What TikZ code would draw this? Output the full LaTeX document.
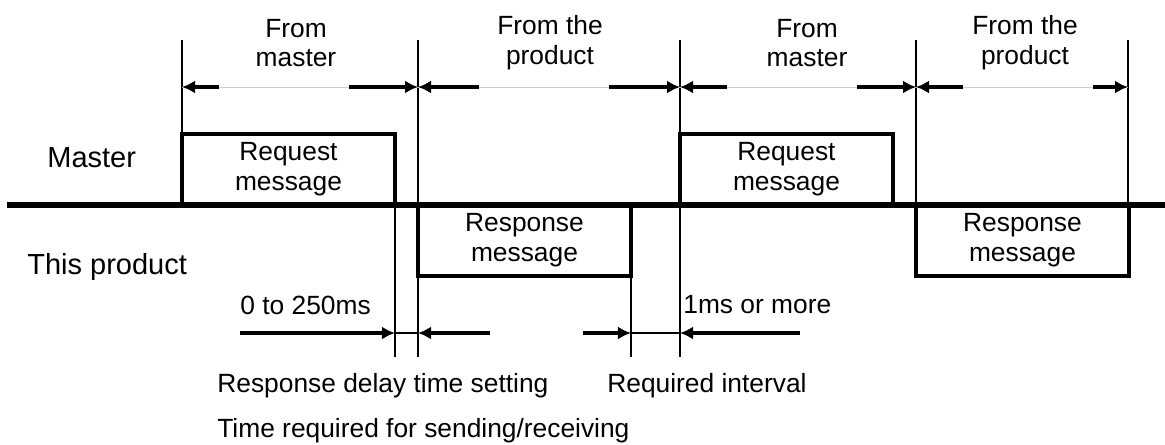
\documentclass[tikz,border=0pt]{standalone}
\usepackage{fontspec}
\setmainfont{Liberation Sans}
\usepackage{tikz}
\usetikzlibrary{arrows.meta,positioning}
\newcommand{\lblsize}{\fontsize{15pt}{17pt}\selectfont}
\newcommand{\sidesize}{\fontsize{16.5pt}{19pt}\selectfont}

\begin{document}
\begin{tikzpicture}[
    x=0.02cm, y=-0.02cm,
    font=\lblsize,
    msgbox/.style={rectangle, draw, line width=2pt, minimum width=4.26cm, minimum height=1.42cm, inner sep=0pt, outer sep=0pt, align=center},
    bus/.style={line width=3.7pt},
    guide/.style={line width=0.75pt},
    dimline/.style={line width=0.5pt, black!20},
    arrow/.style={-{Latex[length=2.6mm,width=2.6mm]}, line width=2pt},
    lbl/.style={inner sep=0pt, align=center},
    note/.style={inner sep=0pt, anchor=base west},
    side/.style={inner sep=0pt, anchor=base west, font=\sidesize}
]
\useasboundingbox (0,0) rectangle (1165,444);

% Line and signal boxes
\draw[bus] (7,205) -- (1165,205);
\node[msgbox, anchor=south west] (req1) at (182,205) {Request\\message};
\node[msgbox, anchor=north west] (resp1) at (418,205) {Response\\message};
\node[msgbox, anchor=south west] (req2) at (680,205) {Request\\message};
\node[msgbox, anchor=north west] (resp2) at (916,205) {Response\\message};

% Side labels
\node[side] (master) at (47,167) {Master};
\node[side] (product) at (27,274) {This product};

% Guide lines
\draw[guide] (req1.north west) -- (182,40);
\draw[guide] (418,40) -- (418,357);
\draw[guide] (680,40) -- (680,357);
\draw[guide] (916,40) -- (resp2.north west);
\draw[guide] (1128,40) -- (1128,205);
\draw[guide] (req1.south east) -- (req1.south east |- {(0,357)});
\draw[guide] (resp1.south east) -- (resp1.south east |- {(0,357)});

% Top spans
\node[lbl] (from1) at (296,43) {From\\master};
\node[lbl] (from2) at (550,43) {From the\\product};
\node[lbl] (from3) at (807,43) {From\\master};
\node[lbl] (from4) at (1025,43) {From the\\product};
\foreach \a/\b in {182/418, 418/680, 680/916, 916/1128}
  \draw[dimline] (\a,87) -- (\b,87);
\draw[arrow] (219,87) -- (182,87);
\draw[arrow] (349,87) -- (418,87);
\draw[arrow] (479,87) -- (418,87);
\draw[arrow] (609,87) -- (680,87);
\draw[arrow] (727,87) -- (680,87);
\draw[arrow] (857,87) -- (916,87);
\draw[arrow] (963,87) -- (916,87);
\draw[arrow] (1093,87) -- (1128,87);

% Bottom timings
\draw[guide] (req1.south east |- {(0,333)}) -- (418,333);
\draw[guide] (resp1.south east |- {(0,333)}) -- (680,333);
\draw[arrow] (240,333) -- (req1.south east |- {(0,333)});
\draw[arrow] (490,333) -- (418,333);
\draw[arrow] (583,333) -- (resp1.south east |- {(0,333)});
\draw[arrow] (800,333) -- (680,333);
\node[note] (delay) at (240,314) {0 to 250ms};
\node[note] (gap) at (683,313) {1ms or more};
\node[note] (delaytxt) at (217,392) {Response delay time setting};
\node[note] (gaptxt) at (607,392) {Required interval};
\node[note] (sendtxt) at (217,437) {Time required for sending/receiving};

\end{tikzpicture}
\end{document}
